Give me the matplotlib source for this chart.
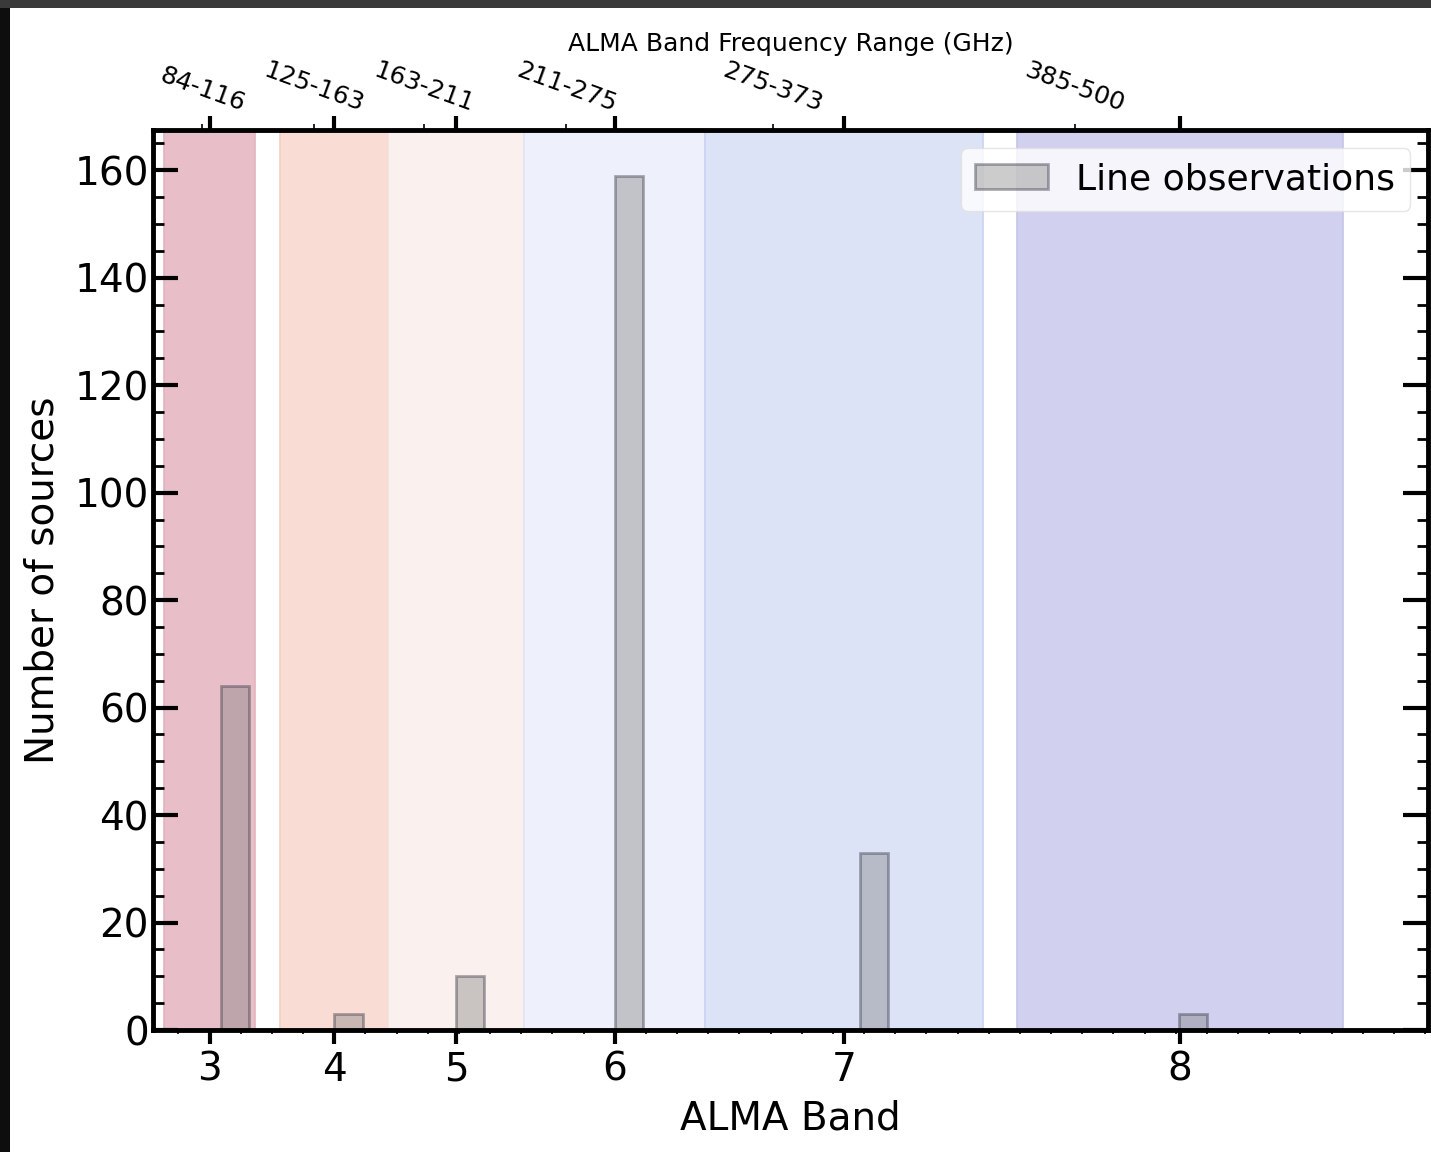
import numpy as np
import matplotlib
matplotlib.use("Agg")
import matplotlib.pyplot as plt
from matplotlib.ticker import AutoMinorLocator, FixedLocator, NullLocator
from matplotlib.patches import Rectangle

# ALMA bands: frequency ranges (GHz) and band centres
bands = [3, 4, 5, 6, 7, 8]
band_lo = [84, 125, 163, 211, 275, 385]
band_hi = [116, 163, 211, 275, 373, 500]
band_centre = [100, 144, 187, 243, 324, 442.5]
range_labels = ["84-116", "125-163", "163-211", "211-275", "275-373", "385-500"]
span_colors = ["#e8bfc8", "#f9ddd5", "#faf0ee", "#eef1fb", "#dde3f7", "#d1d1ef"]
span_edges = ["#e3b3be", "#f2cfc4", "#f3e2dc", "#dfe5f7", "#c9d3f1", "#c3c3ea"]

# line observations per band (bar left edges in GHz)
bar_x = [104, 144, 187, 243, 329.5, 442]
n_sources = [64, 3, 10, 159, 33, 3]

fig = plt.figure(figsize=(14.31, 11.52), dpi=100)
ax = fig.add_axes([0.1069, 0.1059, 0.8910, 0.7813])

for lo, hi, fc, ec in zip(band_lo, band_hi, span_colors, span_edges):
    ax.axvspan(lo, hi, facecolor=fc, edgecolor=ec, linewidth=1.2, zorder=0)

ax.bar(bar_x, n_sources, width=10, align="edge", color="gray", alpha=0.4,
       edgecolor="#303040", linewidth=2, label="Line observations", zorder=2)

ax.set_xlim(80, 530)
ax.set_ylim(0, 167.5)
ax.set_xticks(band_centre)
ax.set_xticklabels([str(b) for b in bands])
ax.xaxis.set_minor_locator(AutoMinorLocator())
ax.yaxis.set_major_locator(FixedLocator(np.arange(0, 161, 20)))
ax.yaxis.set_minor_locator(AutoMinorLocator())

for s in ax.spines.values():
    s.set_linewidth(3.5)

ax.set_xlabel("ALMA Band", fontsize=28, labelpad=8)
ax.set_ylabel("Number of sources", fontsize=28, labelpad=9)

leg = ax.legend(loc="upper right", fontsize=26, fancybox=True, framealpha=0.8,
                borderaxespad=0.5)
leg.get_frame().set_edgecolor("#e0e0e0")

# top axis with the frequency ranges
ax2 = ax.twiny()
ax2.set_xlim(80.8, 581)
ax2.set_xticks(band_centre)
ax2.set_xticklabels(range_labels, rotation=-20, ha="center", fontsize=18)
ax2.xaxis.set_minor_locator(NullLocator())
ax2.tick_params(axis="x", direction="out", length=4, width=1.2, pad=6)
ax2.set_xlabel("ALMA Band Frequency Range (GHz)", fontsize=18, labelpad=5)
for s in ax2.spines.values():
    s.set_visible(False)

# main axis ticks (set after twiny, which turns the top ticks off)
ax.tick_params(axis="x", which="major", direction="out", length=10, width=3,
               labelsize=28, pad=5, bottom=True, top=True, labeltop=False)
ax.tick_params(axis="x", which="minor", direction="out", length=3, width=1.2,
               bottom=True, top=False)
ax.tick_params(axis="y", which="major", direction="in", length=18, width=3,
               labelsize=28, pad=3, left=True, right=True)
ax.tick_params(axis="y", which="minor", direction="in", length=8, width=2,
               left=True, right=True)

# dark screenshot border
fig.patches.append(Rectangle((0, 0), 10 / 1431, 1, transform=fig.transFigure,
                             facecolor="#0e0e0e", edgecolor="none", zorder=10))
fig.patches.append(Rectangle((0, 1 - 8 / 1152), 1, 8 / 1152, transform=fig.transFigure,
                             facecolor="#3a3a3a", edgecolor="none", zorder=10))

fig.savefig("out.png", dpi=100)
